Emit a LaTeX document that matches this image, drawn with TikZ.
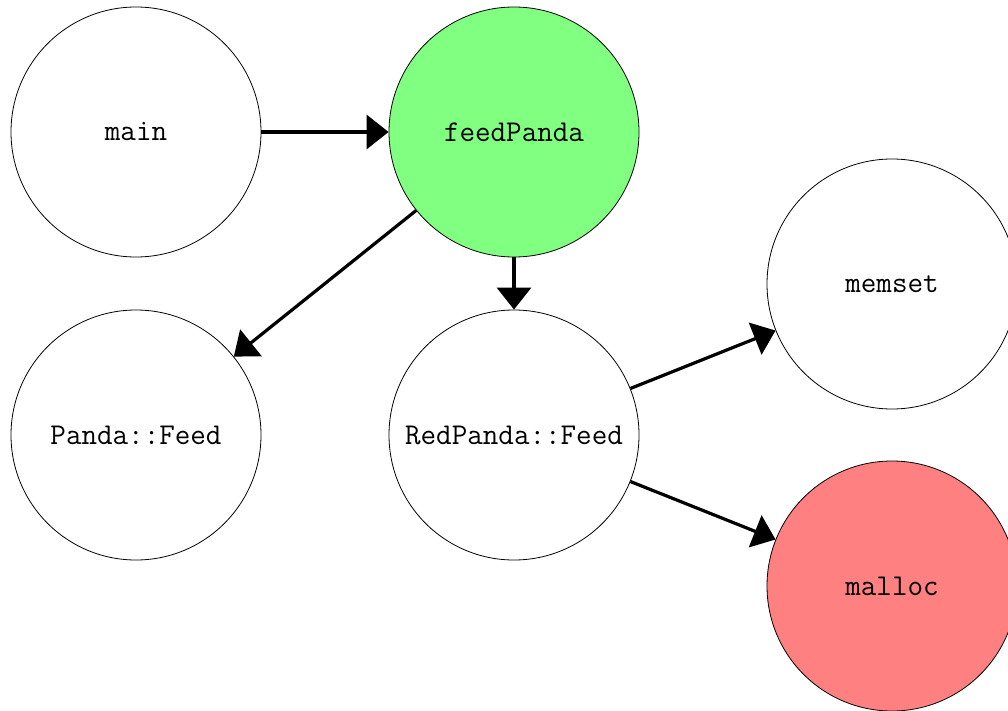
\documentclass[tikz,border=0pt]{standalone}
\usepackage{fontspec}
\usetikzlibrary{arrows.meta}
\definecolor{gfill}{HTML}{80FF80}
\definecolor{rfill}{HTML}{FF8080}
\begin{document}
\begin{tikzpicture}[x=1pt,y=-1pt,
  fn/.style={circle,draw=black,line width=0.8pt,minimum size=250pt,inner sep=0pt,
    font=\ttfamily\fontsize{30.2pt}{34pt}\selectfont},
  call/.style={line width=3.2pt,-{Triangle[length=22pt,width=34pt]}}]
\useasboundingbox (0,0) rectangle (1008,711);
\node[fn] (main) at (136,132) {main};
\node[fn,fill=gfill] (feed) at (514,132) {feedPanda};
\node[fn] (pf) at (136,435) {Panda::Feed};
\node[fn] (rpf) at (514,435) {RedPanda::Feed};
\node[fn] (memset) at (892,284) {memset};
\node[fn,fill=rfill] (malloc) at (892,586) {malloc};
\draw[call] (main) -- (feed);
\draw[call] (feed) -- (pf);
\draw[call] (feed) -- (rpf);
\draw[call] (rpf) -- (memset);
\draw[call] (rpf) -- (malloc);
\end{tikzpicture}
\end{document}
